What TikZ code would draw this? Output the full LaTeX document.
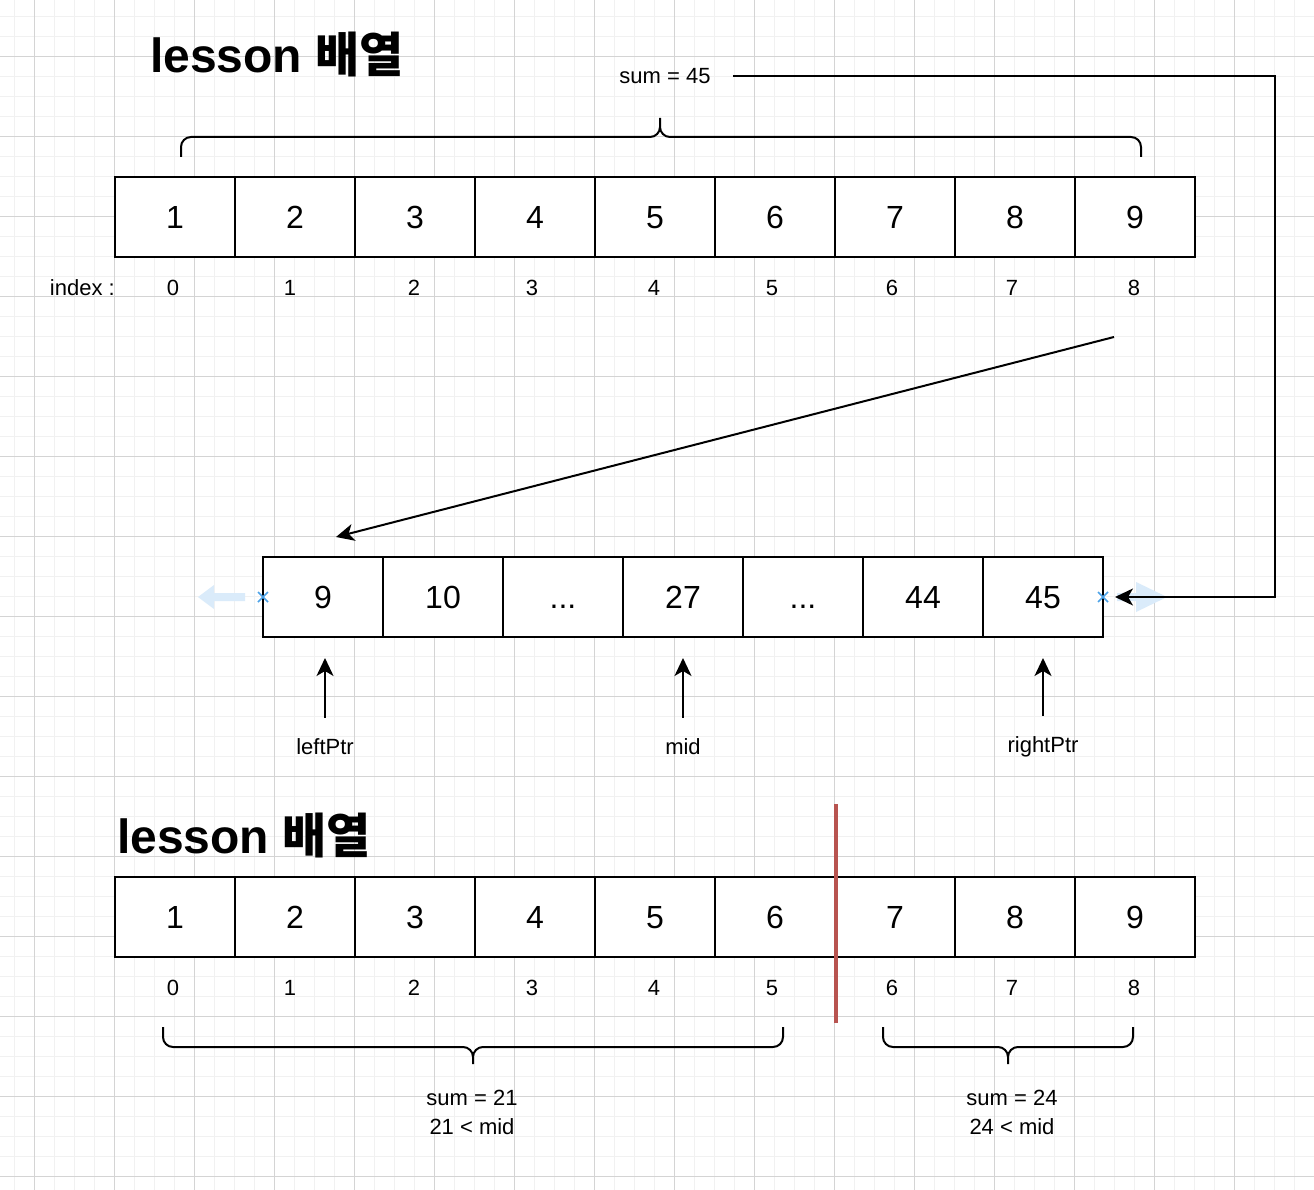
\documentclass[tikz,border=0pt]{standalone}
\usepackage{fontspec}
\setmainfont{Liberation Sans}
\newfontfamily\krfont{Noto Sans CJK KR}
\usetikzlibrary{arrows.meta,positioning,calc}
\definecolor{GridMinor}{HTML}{F1F1F1}
\definecolor{GridMajor}{HTML}{D4D4D4}
\definecolor{SplitRed}{HTML}{B85450}
\definecolor{HintBlue}{HTML}{DAEBFA}
\definecolor{PinBlue}{HTML}{4DA3E8}
\tikzset{
  % array cell
  cell/.style={rectangle,draw,fill=white,line width=2pt,
               minimum width=120pt,minimum height=80pt,
               inner sep=0pt,outer sep=0pt,
               text height=23pt,text depth=0pt,
               font=\fontsize{32}{38}\selectfont},
  % index and plain labels
  idx/.style={inner sep=0pt,font=\fontsize{22}{26}\selectfont},
  lbl/.style={inner sep=0pt,align=center,font=\fontsize{22}{29}\selectfont},
  ttl/.style={inner sep=0pt,anchor=base west,font=\fontsize{48}{54}\selectfont\bfseries},
  % lines
  arr/.style={-{Stealth[length=18pt,width=17pt,inset=5pt]},line width=2pt},
  brace/.style={line width=2pt,rounded corners=10pt},
  split/.style={draw=SplitRed,line width=4pt},
  hint/.style={fill=HintBlue,draw=none},
  pin/.style={draw=PinBlue,line width=1.5pt},
  gminor/.style={draw=GridMinor,line width=1.5pt},
  gmajor/.style={draw=GridMajor,line width=1.2pt}
}
\begin{document}
\begin{tikzpicture}[x=1pt,y=-1pt]
  \useasboundingbox (0,0) rectangle (1314,1190);
  \fill[white] (0,0) rectangle (1314,1190);
  % grid
  \foreach \i in {0,...,65} \draw[gminor] ({14.5+20*\i},0) -- ({14.5+20*\i},1190);
  \foreach \i in {0,...,59} \draw[gminor] (0,{16.7+20*\i}) -- (1314,{16.7+20*\i});
  \foreach \i in {0,...,16} \draw[gmajor] ({34.5+80*\i},0) -- ({34.5+80*\i},1190);
  \foreach \i in {0,...,14} \draw[gmajor] (0,{56.7+80*\i}) -- (1314,{56.7+80*\i});

  % first array
  \node[ttl] (title1) at (150,73) {lesson {\krfont 배열}};
  \node[cell] (t1) at (175,217) {1};
  \node[cell,right=0pt of t1] (t2) {2};
  \node[cell,right=0pt of t2] (t3) {3};
  \node[cell,right=0pt of t3] (t4) {4};
  \node[cell,right=0pt of t4] (t5) {5};
  \node[cell,right=0pt of t5] (t6) {6};
  \node[cell,right=0pt of t6] (t7) {7};
  \node[cell,right=0pt of t7] (t8) {8};
  \node[cell,right=0pt of t8] (t9) {9};
  \node[idx,anchor=east] (ilbl) at ($(t1.south west)+(0,31)$) {index :};
  \node[idx] (i0) at ($(t1.south)+(-2,31)$) {0};
  \node[idx] (i1) at ($(t2.south)+(-5,31)$) {1};
  \node[idx] (i2) at ($(t3.south)+(-1,31)$) {2};
  \node[idx] (i3) at ($(t4.south)+(-3,31)$) {3};
  \node[idx] (i4) at ($(t5.south)+(-1,31)$) {4};
  \node[idx] (i5) at ($(t6.south)+(-3,31)$) {5};
  \node[idx] (i6) at ($(t7.south)+(-3,31)$) {6};
  \node[idx] (i7) at ($(t8.south)+(-3,31)$) {7};
  \node[idx] (i8) at ($(t9.south)+(-1,31)$) {8};
  \draw[brace] (181,157) -- (181,137) -- (660,137) -- (660,118)
               (660,118) -- (660,137) -- (1141,137) -- (1141,157);
  \node[lbl] (s45) at (665,76) {sum = 45};

  % prefix sums
  \node[cell] (m1) at (323,597) {9};
  \node[cell,right=0pt of m1] (m2) {10};
  \node[cell,right=0pt of m2] (m3) {...};
  \node[cell,right=0pt of m3] (m4) {27};
  \node[cell,right=0pt of m4] (m5) {...};
  \node[cell,right=0pt of m5] (m6) {44};
  \node[cell,right=0pt of m6] (m7) {45};
  \fill[hint] (198,597) -- (214,585) -- (214,593) -- (245,593) -- (245,601) -- (214,601) -- (214,609) -- cycle;
  \fill[hint] (1167,597) -- (1136,582) -- (1136,593) -- (1117,593) -- (1117,601) -- (1136,601) -- (1136,612) -- cycle;
  \draw[pin] ($(m1.west)+(-5,-5)$) -- ($(m1.west)+(5,5)$) ($(m1.west)+(-5,5)$) -- ($(m1.west)+(5,-5)$);
  \draw[pin] ($(m7.east)+(-5,-5)$) -- ($(m7.east)+(5,5)$) ($(m7.east)+(-5,5)$) -- ($(m7.east)+(5,-5)$);

  \coordinate (loopc) at (1275,76);
  \draw[arr,shorten <=22pt,shorten >=12pt] (s45.east) -- (loopc) |- (m7.east);
  \coordinate (dfrom) at (1114,337);
  \coordinate (dto) at (336,537);
  \draw[arr] (dfrom) -- (dto);

  \node[lbl] (lp) at (325,747) {leftPtr};
  \node[lbl] (mi) at (683,747) {mid};
  \node[lbl] (rp) at (1043,747) {rightPtr};
  \draw[arr,shorten <=21pt,shorten >=21pt] (lp.north) -- (lp.north |- m1.south);
  \draw[arr,shorten <=21pt,shorten >=21pt] (mi.north) -- (mi.north |- m4.south);
  \draw[arr,shorten <=21pt,shorten >=21pt] (rp.north) -- (rp.north |- m7.south);

  % second array
  \node[ttl] (title2) at (117,853) {lesson {\krfont 배열}};
  \node[cell] (b1) at (175,917) {1};
  \node[cell,right=0pt of b1] (b2) {2};
  \node[cell,right=0pt of b2] (b3) {3};
  \node[cell,right=0pt of b3] (b4) {4};
  \node[cell,right=0pt of b4] (b5) {5};
  \node[cell,right=0pt of b5] (b6) {6};
  \node[cell,right=0pt of b6] (b7) {7};
  \node[cell,right=0pt of b7] (b8) {8};
  \node[cell,right=0pt of b8] (b9) {9};
  \node[idx] (j0) at ($(b1.south)+(-2,31)$) {0};
  \node[idx] (j1) at ($(b2.south)+(-5,31)$) {1};
  \node[idx] (j2) at ($(b3.south)+(-1,31)$) {2};
  \node[idx] (j3) at ($(b4.south)+(-3,31)$) {3};
  \node[idx] (j4) at ($(b5.south)+(-1,31)$) {4};
  \node[idx] (j5) at ($(b6.south)+(-3,31)$) {5};
  \node[idx] (j6) at ($(b7.south)+(-3,31)$) {6};
  \node[idx] (j7) at ($(b8.south)+(-3,31)$) {7};
  \node[idx] (j8) at ($(b9.south)+(-1,31)$) {8};
  \coordinate (cutT) at (836,804);
  \coordinate (cutB) at (836,1023);
  \draw[split] (cutT) -- (cutB);
  \draw[brace] (163,1027) -- (163,1047) -- (473,1047) -- (473,1064)
               (473,1064) -- (473,1047) -- (783,1047) -- (783,1027);
  \draw[brace] (883,1027) -- (883,1047) -- (1008,1047) -- (1008,1064)
               (1008,1064) -- (1008,1047) -- (1133,1047) -- (1133,1027);
  \node[lbl] (s21) at (472,1112) {sum = 21\\21 < mid};
  \node[lbl] (s24) at (1012,1112) {sum = 24\\24 < mid};
\end{tikzpicture}
\end{document}
